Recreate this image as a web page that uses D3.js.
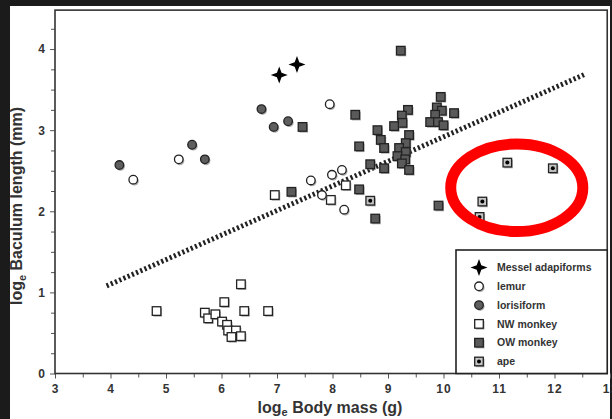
<!DOCTYPE html>
<html>
<head>
<meta charset="utf-8">
<script src="https://cdn.jsdelivr.net/npm/d3@7"></script>
<style>
  html, body { margin: 0; padding: 0; background: #1b1b1b; }
  svg { display: block; }
  text { font-family: "Liberation Sans", Arial, sans-serif; font-weight: bold; fill: #333; }
</style>
</head>
<body>
<div id="chart"></div>
<script>
// Points: [log body mass, log baculum length]
const messel = [[7.04, 3.68], [7.36, 3.81]];
const lemur = [[4.41, 2.39], [5.23, 2.64], [7.61, 2.38], [7.95, 3.32], [7.99, 2.45],
    [8.17, 2.51], [7.81, 2.20], [8.21, 2.02]];
const lorisiform = [[4.16, 2.57], [5.47, 2.82], [5.70, 2.64], [6.72, 3.26], [6.94, 3.04], [7.20, 3.11]];
const nwMonkey = [[6.96, 2.20], [8.24, 2.32], [7.97, 2.14], [4.83, 0.77], [6.35, 1.10], [6.05, 0.88],
    [6.41, 0.77], [6.84, 0.77], [5.70, 0.75], [5.76, 0.68], [5.89, 0.73], [6.01, 0.64],
    [6.10, 0.60], [6.12, 0.53], [6.26, 0.53], [6.18, 0.45], [6.35, 0.46]];
const owMonkey = [[7.26, 2.24], [7.46, 3.04], [8.41, 3.19], [9.23, 3.98], [9.95, 3.41], [9.88, 3.28],
    [9.97, 3.24], [9.85, 3.19], [9.76, 3.10], [9.90, 3.10], [10.00, 3.06], [10.19, 3.21],
    [9.36, 3.25], [9.25, 3.18], [9.26, 3.09], [9.11, 3.05], [8.81, 3.00], [8.87, 2.88],
    [8.93, 2.78], [9.38, 2.94], [9.32, 2.84], [9.20, 2.78], [9.32, 2.73], [9.17, 2.68],
    [9.31, 2.64], [9.25, 2.59], [9.38, 2.51], [8.48, 2.80], [8.68, 2.58], [8.93, 2.53],
    [8.48, 2.27], [8.77, 1.91], [9.91, 2.07]];
const ape = [[8.68, 2.13], [11.15, 2.60], [11.97, 2.53], [10.70, 2.12], [10.65, 1.93]];

// regression line end points
const fitLine = [[3.93, 1.08], [12.55, 3.69]];
// red annotation ellipse: centre and radii in data units
const highlight = { cx: 11.32, cy: 2.29, rx: 1.19, ry: 0.54 };

const xTicks = [3, 4, 5, 6, 7, 8, 9, 10, 11, 12, 13];
const xMinor = [3.5, 4.5, 5.5, 6.5, 7.5, 8.5, 9.5, 10.5, 11.5, 12.5];
const yTicks = [0, 1, 2, 3, 4];
const yMinor = [0.25, 0.5, 0.75, 1.25, 1.5, 1.75, 2.25, 2.5, 2.75, 3.25, 3.5, 3.75, 4.25];

const legendItems = [
    { key: "star", label: "Messel adapiforms" },
    { key: "lemur", label: "lemur" },
    { key: "loris", label: "lorisiform" },
    { key: "nw", label: "NW monkey" },
    { key: "ow", label: "OW monkey" },
    { key: "ape", label: "ape" }
];

const W = 612, H = 419;

const svg = d3.select("#chart")
    .append("svg")
    .attr("width", W)
    .attr("height", H);

// white page with dark screenshot edges
svg.append("rect")
    .attr("x", 10).attr("y", 6)
    .attr("width", 600).attr("height", H - 6)
    .attr("fill", "#fff");

const x = d3.scaleLinear().domain([3, 13]).range([55, 610]);
const y = d3.scaleLinear().domain([0, 4.5]).range([373.5, 8.5]);

// axes
const xAxis = svg.append("g")
    .attr("transform", `translate(0,${y(0)})`)
    .call(d3.axisBottom(x).tickValues(xTicks).tickSize(5).tickPadding(6).tickFormat(d3.format("d")));
svg.append("g")
    .attr("transform", `translate(0,${y(0)})`)
    .call(d3.axisBottom(x).tickValues(xMinor).tickSize(4).tickFormat(""));
svg.append("g")
    .attr("transform", `translate(${x(3)},0)`)
    .call(d3.axisLeft(y).tickValues(yTicks).tickSize(5).tickPadding(5).tickFormat(d3.format("d")));
svg.append("g")
    .attr("transform", `translate(${x(3)},0)`)
    .call(d3.axisLeft(y).tickValues(yMinor).tickSize(4).tickFormat(""));

svg.selectAll(".domain").remove();
svg.selectAll(".tick line").attr("stroke", "#555").attr("stroke-width", 1);
svg.selectAll(".tick text")
    .style("font-size", "12px")
    .style("font-family", "'Liberation Sans', Arial, sans-serif")
    .style("font-weight", "bold")
    .attr("fill", "#333");
xAxis.selectAll(".tick text").attr("letter-spacing", 1);

// plot frame
svg.append("rect")
    .attr("x", x(3))
    .attr("y", y(4.48))
    .attr("width", x(12.95) - x(3))
    .attr("height", y(0) - y(4.48))
    .attr("fill", "none")
    .attr("stroke", "#333")
    .attr("stroke-width", 1.6);

// hatched regression line
svg.append("line")
    .attr("x1", x(fitLine[0][0])).attr("y1", y(fitLine[0][1]))
    .attr("x2", x(fitLine[1][0])).attr("y2", y(fitLine[1][1]))
    .attr("stroke", "#222")
    .attr("stroke-width", 5)
    .attr("stroke-dasharray", "2.2,2.4");

// marker drawing
function drawSymbol(g, key, cx, cy) {
    const s = g.append("g").attr("transform", `translate(${cx},${cy})`);
    if (key === "star") {
        const a = 8.5, b = 2.3;
        const pts = [[0, -a], [b, -b], [a, 0], [b, b], [0, a], [-b, b], [-a, 0], [-b, -b]];
        s.append("path").attr("d", "M" + pts.join("L") + "Z").attr("fill", "#000");
        return;
    }
    const round = key === "lemur" || key === "loris";
    const fill = { lemur: "#fff", loris: "#5e5e5e", nw: "#fff", ow: "#5a5a5a", ape: "#c4c4c4" }[key];
    const shadow = round ? s.append("circle").attr("r", 4.4)
        : s.append("rect").attr("x", -4.3).attr("y", -4.3).attr("width", 8.6).attr("height", 8.6);
    shadow.attr("transform", "translate(1.2,1.4)").attr("fill", "#777").attr("opacity", 0.6);
    const m = round ? s.append("circle").attr("r", 4.3)
        : s.append("rect").attr("x", -4.3).attr("y", -4.3).attr("width", 8.6).attr("height", 8.6);
    m.attr("fill", fill).attr("stroke", "#222").attr("stroke-width", 1.3);
    if (key === "ape") s.append("circle").attr("r", 2).attr("fill", "#000");
}

const series = [
    ["nw", nwMonkey], ["lemur", lemur], ["loris", lorisiform],
    ["ow", owMonkey], ["ape", ape], ["star", messel]
];
const pointsG = svg.append("g");
series.forEach(([key, pts]) => {
    pts.forEach(d => drawSymbol(pointsG, key, x(d[0]), y(d[1])));
});

// red ellipse annotation
svg.append("ellipse")
    .attr("cx", x(highlight.cx))
    .attr("cy", y(highlight.cy))
    .attr("rx", x(highlight.cx + highlight.rx) - x(highlight.cx))
    .attr("ry", y(highlight.cy) - y(highlight.cy + highlight.ry))
    .attr("fill", "none")
    .attr("stroke", "#ff0000")
    .attr("stroke-width", 11);

// legend
const legend = svg.append("g");
legend.append("rect")
    .attr("x", 456).attr("y", 250)
    .attr("width", x(12.95) - 456).attr("height", y(0) - 250)
    .attr("fill", "#fff")
    .attr("stroke", "#222")
    .attr("stroke-width", 1.6);
legendItems.forEach((item, i) => {
    const cy = 267.5 + i * 18.8;
    drawSymbol(legend, item.key, 479, cy);
    legend.append("text")
        .attr("x", 497)
        .attr("y", cy + 3.6)
        .style("font-size", "10.5px")
        .text(item.label);
});

// axis titles
const xt = svg.append("text")
    .attr("x", 330)
    .attr("y", 413)
    .attr("text-anchor", "middle")
    .style("font-size", "16px");
xt.append("tspan").text("log");
xt.append("tspan").attr("dy", 3).style("font-size", "11px").text("e");
xt.append("tspan").attr("dy", -3).text(" Body mass (g)");

const yt = svg.append("text")
    .attr("transform", "translate(22,206) rotate(-90)")
    .attr("text-anchor", "middle")
    .style("font-size", "16px");
yt.append("tspan").text("log");
yt.append("tspan").attr("dy", 4).style("font-size", "11px").text("e");
yt.append("tspan").attr("dy", -4).text(" Baculum length (mm)");
</script>
</body>
</html>
